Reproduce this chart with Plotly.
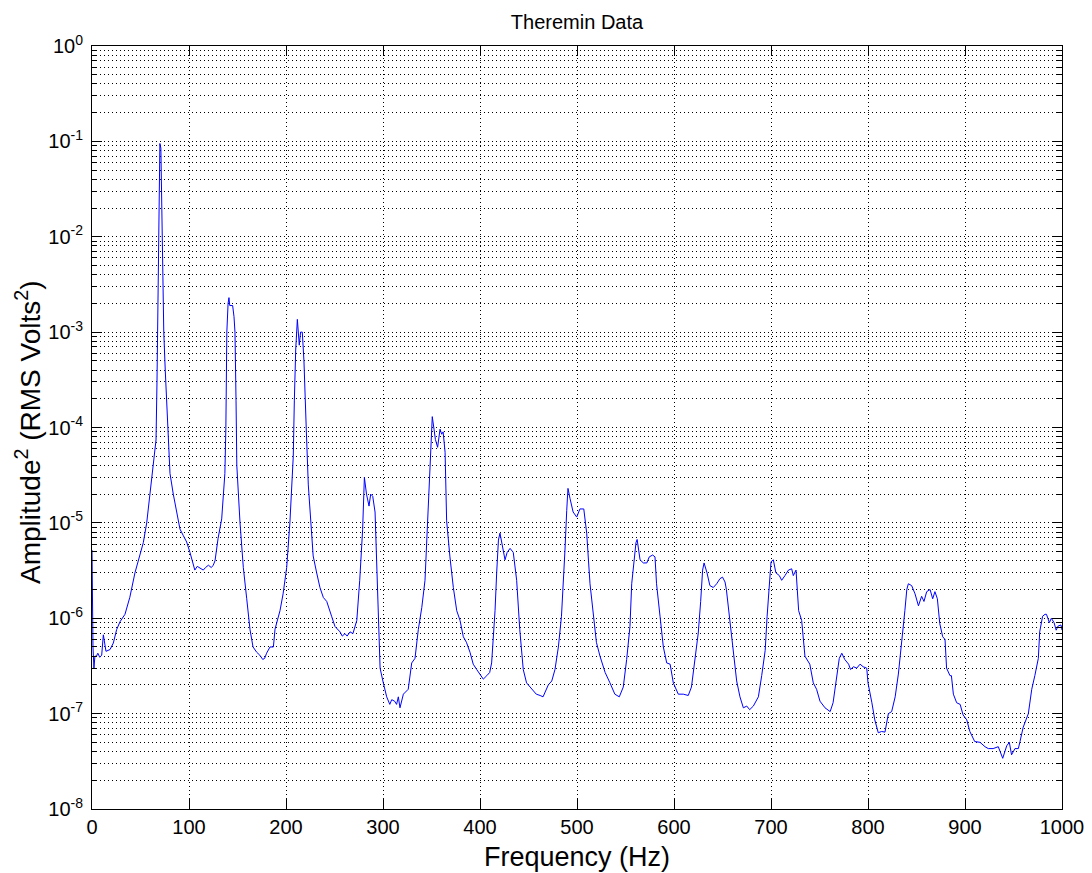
import plotly.graph_objects as go

# Frequency (Hz) and amplitude^2 (RMS Volts^2)
freq = [0, 1, 2, 3, 4.6, 6, 8, 10, 11.7, 14.4, 18.6, 22, 25.4, 28.9, 34, 39, 44.3, 49.5, 52.9, 56.4,
        59.8, 63, 66, 67, 68, 69, 70, 71, 72, 73, 74, 75.5, 77, 78.7, 80.4, 83.8, 87.3, 90.7, 94, 97.6,
        101, 104.4, 106, 108.5, 111, 114.7, 117, 120, 123, 125, 126.8, 130, 133.7, 137, 138, 139, 140.3,
        141.2, 142, 143, 145, 146.4, 147.4, 148.5, 149.3, 152.6, 156, 159.5, 162.9, 166, 169.8, 173, 176,
        178, 180, 183.5, 187, 188.7, 193.8, 197, 200.7, 204, 207.5, 208.6, 210, 211.7, 212.7, 213.7, 215,
        216.8, 218.5, 219.6, 221, 223, 226.5, 228, 231.6, 235, 238.5, 242, 247, 250.5, 255.7, 258, 260.8,
        263, 266, 269, 273, 276, 279, 280.8, 283, 285.6, 287.3, 289.4, 291.8, 293.5, 295, 297, 300.3,
        303.8, 307, 309, 312, 314, 315.8, 317.5, 321, 326, 329.6, 333, 336.4, 340, 343.3, 345, 346.7,
        348.5, 349.5, 350.8, 352.6, 354, 356.3, 358.8, 360.5, 362, 364, 365.6, 369, 372.5, 376, 379.4,
        382.8, 386, 389.7, 393, 396.6, 400, 403.4, 407, 410, 412, 415.5, 417.2, 419, 420.6, 423, 425.8,
        428, 431, 434.3, 437.8, 441, 444.6, 448, 451.5, 455, 458, 462, 465, 470.4, 474, 477.3, 480.8,
        484, 486, 487.6, 489.4, 490.7, 492.8, 496, 499.7, 503, 507, 510, 513.4, 516.8, 520, 523.7, 529,
        534, 539, 543.6, 547.7, 551.2, 554.6, 556.4, 558.8, 560.8, 562, 565, 568.4, 572, 574.5, 578,
        580.4, 582, 585.6, 589, 592.5, 596, 599.3, 604.4, 609.6, 614.7, 618, 621.6, 625, 627.5, 629.5,
        631, 634, 637, 640.5, 644, 647.4, 650, 652.6, 654, 657.7, 661, 664.6, 668, 671.5, 675, 678,
        681.8, 687, 690.4, 694, 696, 698, 700, 702.4, 705, 708.6, 711, 714.4, 718, 721.3, 723, 725.8,
        727, 728.5, 731.6, 735, 740, 743.6, 747, 750.5, 755.7, 761, 764, 767.7, 770.4, 773, 776, 780,
        782, 785, 788.4, 791.8, 795, 798.7, 800, 804, 807, 810.6, 814, 817.5, 821, 824.4, 828, 831.3,
        835, 838, 840, 841.6, 845, 848.5, 852, 855.3, 857.7, 860.5, 864, 866.7, 869, 871.5, 874, 877,
        879.4, 881, 884.5, 886, 888, 891.4, 895, 898, 901.8, 905, 910, 915.5, 920.6, 924, 929, 934.3,
        938.9, 943, 945.7, 948, 951.5, 955, 956.7, 960, 965.3, 968.8, 972, 975.6, 977, 980, 982.5, 984,
        987, 989, 991.8, 994, 996, 999, 1000]

amp = [5.2e-6, 5e-7, 3.0e-7, 4e-7, 4e-7, 4.3e-7, 3.9e-7, 4.1e-7, 6.7e-7, 4.5e-7, 4.7e-7, 5.5e-7, 7.6e-7,
       9.2e-7, 1.1e-6, 1.66e-6, 3e-6, 4.6e-6, 6.2e-6, 1e-5, 2e-5, 4.3e-5, 7.4e-5, 3e-4, 3e-3, 3e-2, 0.095,
       0.085, 2e-2, 3e-3, 1e-3, 4e-4, 2e-4, 9e-5, 3.3e-5, 2e-5, 1.3e-5, 8.6e-6, 7.4e-6, 6.3e-6, 4.9e-6,
       3.8e-6, 3.2e-6, 3.5e-6, 3.4e-6, 3.2e-6, 3.4e-6, 3.6e-6, 3.4e-6, 3.6e-6, 4e-6, 6.9e-6, 1.1e-5,
       3.3e-5, 1e-4, 1e-3, 2e-3, 2.3e-3, 1.9e-3, 1.9e-3, 1.9e-3, 1.45e-3, 1e-3, 1.9e-4, 4e-5, 1e-5,
       3.4e-6, 1.6e-6, 7.6e-7, 5e-7, 4.4e-7, 4.1e-7, 3.7e-7, 3.8e-7, 4.3e-7, 5e-7, 5e-7, 7.7e-7, 1.2e-6,
       1.8e-6, 3.4e-6, 1e-5, 5e-5, 1.9e-4, 6.5e-4, 1.36e-3, 9.8e-4, 7.3e-4, 1e-3, 1e-3, 5e-4, 1.9e-4,
       9e-5, 2.5e-5, 8e-6, 4.5e-6, 3e-6, 2.1e-6, 1.65e-6, 1.5e-6, 1.05e-6, 8.2e-7, 7.2e-7, 6.5e-7,
       6.9e-7, 6.5e-7, 7.2e-7, 6.9e-7, 9.5e-7, 2.5e-6, 8.5e-6, 3e-5, 2e-5, 1.5e-5, 2e-5, 1.9e-5, 1.3e-5,
       3.8e-6, 1.2e-6, 3e-7, 2.1e-7, 1.5e-7, 1.25e-7, 1.4e-7, 1.35e-7, 1.25e-7, 1.5e-7, 1.15e-7, 1.6e-7,
       1.8e-7, 3.4e-7, 3.8e-7, 7.6e-7, 1.3e-6, 2.5e-6, 5.8e-6, 1.3e-5, 3e-5, 6.3e-5, 1.3e-4, 9.6e-5,
       7.5e-5, 6.2e-5, 9.6e-5, 8.5e-5, 9e-5, 5.5e-5, 1.05e-5, 4.4e-6, 2.1e-6, 1.2e-6, 9.5e-7, 6.4e-7,
       5.6e-7, 4.4e-7, 3.3e-7, 2.9e-7, 2.6e-7, 2.3e-7, 2.5e-7, 2.7e-7, 3.4e-7, 1.2e-6, 3e-6, 6.6e-6,
       7.8e-6, 5.8e-6, 4.1e-6, 4.9e-6, 5.4e-6, 4.9e-6, 2.5e-6, 7.6e-7, 2.9e-7, 2.1e-7, 1.9e-7, 1.7e-7,
       1.6e-7, 1.55e-7, 1.5e-7, 2e-7, 2.2e-7, 2.9e-7, 5e-7, 1.05e-6, 2.3e-6, 5.2e-6, 1.35e-5, 2.3e-5,
       1.8e-5, 1.3e-5, 1.15e-5, 1.4e-5, 1.4e-5, 7.8e-6, 2.3e-6, 1.05e-6, 5.6e-7, 4e-7, 2.7e-7, 2.1e-7,
       1.6e-7, 1.5e-7, 1.9e-7, 3.7e-7, 8.2e-7, 2.3e-6, 4.4e-6, 6.2e-6, 6.7e-6, 4.1e-6, 3.8e-6, 3.8e-6,
       4.4e-6, 4.6e-6, 4.4e-6, 2.3e-6, 1.05e-6, 5e-7, 3.4e-7, 3.3e-7, 2.1e-7, 1.6e-7, 1.6e-7, 1.55e-7,
       1.9e-7, 3.7e-7, 7e-7, 1.5e-6, 3.2e-6, 3.8e-6, 3e-6, 2.2e-6, 2.1e-6, 2.3e-6, 2.6e-6, 2.7e-6,
       2.4e-6, 2e-6, 8.8e-7, 4.6e-7, 2.2e-7, 1.5e-7, 1.15e-7, 1.2e-7, 1.1e-7, 1.2e-7, 1.5e-7, 2.5e-7,
       4.6e-7, 1.05e-6, 2.3e-6, 3.9e-6, 4.1e-6, 3e-6, 2.8e-6, 2.5e-6, 2.8e-6, 3.2e-6, 3.3e-6, 2.8e-6,
       3.2e-6, 2.1e-6, 1.2e-6, 9.5e-7, 4e-7, 3.3e-7, 2.1e-7, 1.8e-7, 1.35e-7, 1.15e-7, 1.05e-7, 1.3e-7,
       2.4e-7, 3.8e-7, 4.3e-7, 3.7e-7, 3.3e-7, 2.9e-7, 3.1e-7, 3e-7, 3.3e-7, 3.1e-7, 3e-7, 2.1e-7,
       1.3e-7, 8.6e-8, 6.3e-8, 6.5e-8, 6.4e-8, 1e-7, 1.05e-7, 1.5e-7, 2.6e-7, 5.6e-7, 1.2e-6, 2e-6,
       2.3e-6, 2.2e-6, 1.8e-6, 1.35e-6, 1.7e-6, 1.5e-6, 1.9e-6, 2e-6, 1.6e-6, 1.9e-6, 1.6e-6, 8.8e-7,
       6.4e-7, 6e-7, 3e-7, 2.5e-7, 2.5e-7, 1.6e-7, 1.3e-7, 1.25e-7, 9.7e-8, 8.6e-8, 6.5e-8, 5.1e-8,
       5e-8, 4.5e-8, 4.3e-8, 4.3e-8, 4.5e-8, 3.4e-8, 4.6e-8, 5e-8, 3.7e-8, 4.3e-8, 4.3e-8, 5.1e-8,
       7.2e-8, 1e-7, 1.8e-7, 2.5e-7, 3.8e-7, 7.2e-7, 1.05e-6, 1.1e-6, 1.1e-6, 9e-7, 1e-6, 9e-7, 7.5e-7,
       8.3e-7, 8.5e-7, 7.5e-7]

x_ticks = [0, 100, 200, 300, 400, 500, 600, 700, 800, 900, 1000]
y_exps = [-8, -7, -6, -5, -4, -3, -2, -1, 0]
y_ticks = [10.0 ** e for e in y_exps]
y_ticktext = ["10<sup>%d</sup>" % e for e in y_exps]
y_minor = [k * 10.0 ** e for e in y_exps[:-1] for k in range(2, 10)]

FONT = "Liberation Sans, Arial, Helvetica, sans-serif"
W, H = 1092, 873
L, R, T, B = 92, 30, 46, 64
PW, PH = W - L - R, H - T - B

fig = go.Figure()
fig.add_trace(go.Scatter(x=freq, y=amp, mode="lines",
                         line=dict(color="#0000ff", width=1), showlegend=False))

grid_common = dict(showgrid=True, gridcolor="#000000", gridwidth=1, griddash="1px,3px")

fig.update_xaxes(range=[0, 1000], tickvals=x_ticks, ticks="inside", ticklen=10,
                 tickcolor="#000", showline=True, linecolor="#000", linewidth=1,
                 mirror="ticks", zeroline=False, automargin=False,
                 tickfont=dict(size=20, color="#000", family=FONT), **grid_common)

fig.update_yaxes(type="log", range=[-8, 0], tickvals=y_ticks, ticktext=y_ticktext,
                 ticks="inside", ticklen=10, tickcolor="#000", showline=True,
                 linecolor="#000", linewidth=1, mirror="ticks", zeroline=False,
                 automargin=False, ticklabelstandoff=4,
                 minor=dict(tickvals=y_minor, ticks="inside", ticklen=5, tickcolor="#000",
                            showgrid=True, gridcolor="#000000", gridwidth=1, griddash="1px,3px"),
                 tickfont=dict(size=20, color="#000", family=FONT), **grid_common)

# axis labels placed at the reference's positions
fig.add_annotation(text="Frequency (Hz)", xref="paper", yref="paper",
                   x=(577 - L) / PW, y=-(857 - (T + PH)) / PH, xanchor="center", yanchor="middle",
                   showarrow=False, font=dict(size=27, color="#000", family=FONT))
fig.add_annotation(text="Amplitude<sup>2</sup> (RMS Volts<sup>2</sup>)", xref="paper", yref="paper",
                   x=(28 - L) / PW, y=((T + PH) - 433) / PH, xanchor="center", yanchor="middle",
                   textangle=-90, showarrow=False, font=dict(size=28, color="#000", family=FONT))

fig.update_layout(
    width=W, height=H,
    margin=dict(l=L, r=R, t=T, b=B, autoexpand=False),
    paper_bgcolor="#ffffff", plot_bgcolor="#ffffff",
    title=dict(text="Theremin Data", x=577 / W, xref="container",
               xanchor="center", y=1 - 22 / H, yref="container", yanchor="middle",
               font=dict(size=20, color="#000", family=FONT)),
)

fig.write_html("out.html", config={"displayModeBar": False},
               post_script="document.body.style.margin='0';")
